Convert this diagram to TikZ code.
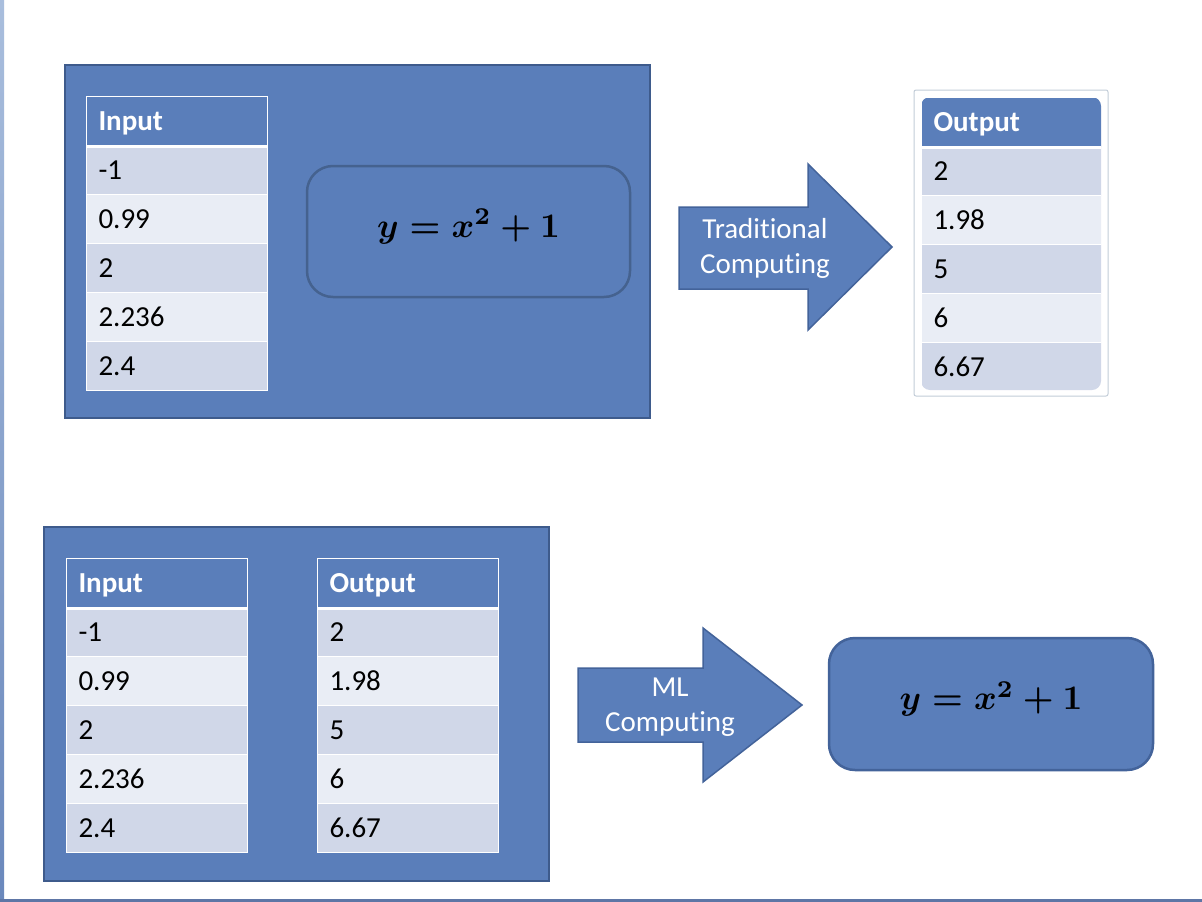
\documentclass[tikz,border=0pt]{standalone}
\usepackage{fontspec}
\setmainfont[Ligatures=NoCommon]{Carlito}
\definecolor{boxblue}{HTML}{5A7EBA}
\definecolor{boxedge}{HTML}{3E5B8C}
\definecolor{fedge}{HTML}{45628F}
\definecolor{arrowedge}{HTML}{43639A}
\definecolor{rowodd}{HTML}{D0D7E8}
\definecolor{roweven}{HTML}{E9EDF5}
\definecolor{selframe}{HTML}{C3CDD8}
\definecolor{stripetop}{HTML}{A9BEDD}
\definecolor{stripebot}{HTML}{6A88BC}
\definecolor{winedge}{HTML}{5E76A6}
\tikzset{
 panel/.style={fill=boxblue, draw=boxedge, line width=2.5pt},
 cell/.style={anchor=north west, minimum width=181pt, minimum height=49pt,
   text width=157pt, inner xsep=12pt, inner ysep=0pt, align=left,
   draw=white, line width=1pt, text height=19pt, text depth=0pt,
   font=\fontsize{29}{35}\selectfont},
 headcell/.style={cell, fill=boxblue, text=white, font=\fontsize{29}{35}\selectfont\bfseries},
 fbox/.style={rounded corners=26pt, fill=boxblue, draw=fedge, line width=2.5pt},
 blockarrow/.style={fill=boxblue, draw=arrowedge, line width=1.5pt, line join=miter},
 arrowtext/.style={text=white, align=center, font=\fontsize{29}{35}\selectfont},
}
\newcommand{\formula}{\raisebox{0pt}[\height][\dimexpr\depth+10pt]{\scalebox{3.45}{\boldmath$y = x^2 + 1$}}}
\newcommand{\datatable}[5]{%
 \node[headcell] (#1-h) at (#2,#3) {#4};
 \foreach \v/\c [count=\i] in {#5} {\node[cell, fill=\c] (#1-\i) at ({#2},{#3+49*\i}) {\v};}
 \draw[white, line width=3pt] (#1-h.south west) -- (#1-h.south east);
}
\begin{document}
\begin{tikzpicture}[x=1pt,y=-1pt]
\useasboundingbox (0,0) rectangle (1202,902);
\fill[white] (0,0) rectangle (1202,902);
% window edges
\shade[top color=stripetop, bottom color=stripebot] (0,0) rectangle (4,902);
\fill[winedge] (0,899) rectangle (1202,902);

% ---- top panel ----
\draw[panel] (65,65) rectangle (650,418);
\datatable{tin}{86}{96}{Input}{-1/rowodd,0.99/roweven,2/rowodd,2.236/roweven,2.4/rowodd}
\node[fbox, minimum width=323pt, minimum height=131pt] (f1) at (468.5,231.5) {\formula};

% traditional arrow
\draw[blockarrow] (679,207) -- (808,207) -- (808,164) -- (892,247) -- (808,330) -- (808,289) -- (679,289) -- cycle;
\node[arrowtext] (trad) at (765,248) {Traditional\\Computing};

% top output table
\draw[selframe, line width=1pt, rounded corners=2pt] (914,90) rectangle (1108,396);
\begin{scope}
\clip[rounded corners=9pt] (921,97) rectangle (1101,390);
\datatable{tout}{921}{97}{Output}{2/rowodd,1.98/roweven,5/rowodd,6/roweven,6.67/rowodd}
\end{scope}

% ---- bottom panel ----
\draw[panel] (44,527) rectangle (549,881);
\datatable{bin}{66}{558}{Input}{-1/rowodd,0.99/roweven,2/rowodd,2.236/roweven,2.4/rowodd}
\datatable{bout}{317}{558}{Output}{2/rowodd,1.98/roweven,5/rowodd,6/roweven,6.67/rowodd}

% ML arrow
\draw[blockarrow] (578,668) -- (703,668) -- (703,628) -- (802,705) -- (703,782) -- (703,742) -- (578,742) -- cycle;
\node[arrowtext] (ml) at (670,707) {ML\\Computing};

\node[fbox, draw=arrowedge, minimum width=324pt, minimum height=132pt] (f2) at (991,704) {\formula};
\end{tikzpicture}
\end{document}
